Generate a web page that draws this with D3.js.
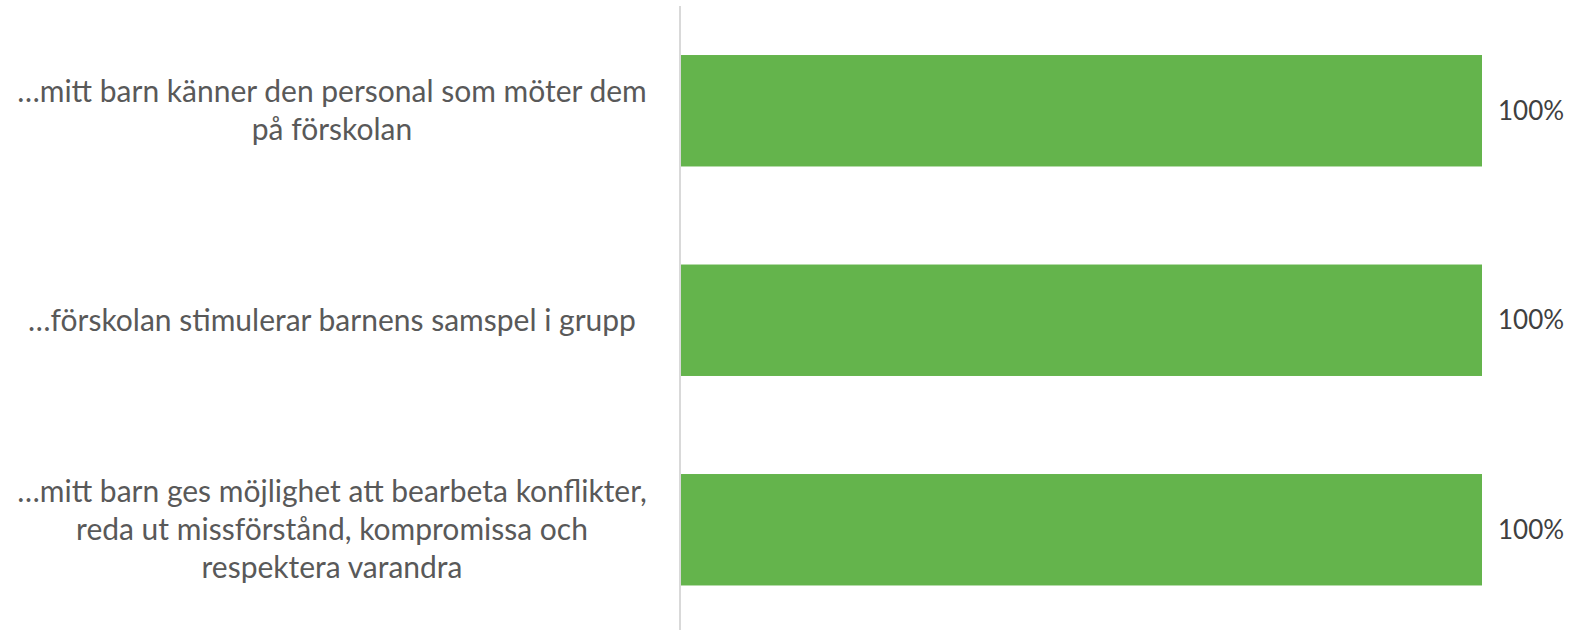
<!DOCTYPE html>
<html>
<head>
<meta charset="utf-8">
<script src="https://cdn.jsdelivr.net/npm/d3@7"></script>
<style>
  body { margin: 0; background: #fff; }
  text { font-family: Lato, "Open Sans", sans-serif; }
</style>
</head>
<body>
<div id="canvas"></div>
<script>
"use strict"

/* Data */
let questions = [
    ["…mitt barn känner den personal som möter dem", "på förskolan"],
    ["…förskolan stimulerar barnens samspel i grupp"],
    ["…mitt barn ges möjlighet att bearbeta konflikter,", "reda ut missförstånd, kompromissa och", "respektera varandra"]
];
let values = [1, 1, 1];
let valueLabels = ["100%", "100%", "100%"];

/* Drawing config */
let svgWidth = 1569;
let svgHeight = 630;
let axisX = 680;
let labelCenter = 332;
let lineHeight = 38;

let svg = d3.select("#canvas")
    .append("svg")
    .attr("width", svgWidth)
    .attr("height", svgHeight);

let yScale = d3.scaleBand()
    .domain(d3.range(questions.length))
    .range([6, 634.5])
    .paddingInner(0.468)
    .paddingOuter(0.234);

let xScale = d3.scaleLinear()
    .domain([0, 1])
    .range([axisX + 1, 1482]);

// bars
svg.selectAll("rect.bar")
    .data(values)
    .join("rect")
    .attr("class", "bar")
    .attr("x", xScale(0))
    .attr("y", (d, i) => yScale(i))
    .attr("width", d => xScale(d) - xScale(0))
    .attr("height", yScale.bandwidth())
    .attr("fill", "#64b44c");

// vertical axis line
svg.append("line")
    .attr("x1", axisX)
    .attr("x2", axisX)
    .attr("y1", 6)
    .attr("y2", svgHeight)
    .attr("stroke", "#d9d9d9")
    .attr("stroke-width", 2);

// category labels (multi line, centered)
let labels = svg.selectAll("text.cat")
    .data(questions)
    .join("text")
    .attr("class", "cat")
    .attr("text-anchor", "middle")
    .attr("fill", "#595959")
    .style("font-size", "30px");

labels.each(function(lines, i) {
    let mid = yScale(i) + yScale.bandwidth() / 2;
    let first = mid - (lines.length - 1) * lineHeight / 2;
    d3.select(this).selectAll("tspan")
        .data(lines)
        .join("tspan")
        .attr("x", labelCenter)
        .attr("y", (d, j) => first + j * lineHeight)
        .attr("dy", "0.35em")
        .text(d => d);
});

// value labels
svg.selectAll("text.val")
    .data(valueLabels)
    .join("text")
    .attr("class", "val")
    .attr("x", (d, i) => xScale(values[i]) + 16)
    .attr("y", (d, i) => yScale(i) + yScale.bandwidth() / 2)
    .attr("dy", "0.35em")
    .attr("fill", "#404040")
    .style("font-size", "26px")
    .text(d => d);
</script>
</body>
</html>
